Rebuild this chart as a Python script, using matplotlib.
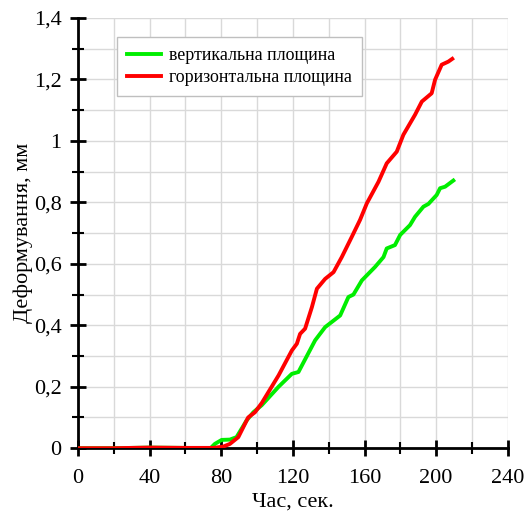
import matplotlib
matplotlib.use("Agg")
import matplotlib.pyplot as plt
from matplotlib.ticker import MultipleLocator, FuncFormatter

# vertical plane
vert_t = [0, 20, 40, 60, 74, 76.4, 80.2, 84.8, 88.5, 94.1, 97.9, 102.6, 112, 119.4, 123.1,
          132.4, 138, 146.4, 151, 153.8, 158.5, 165.9, 170.6, 172.4, 177, 179.9, 185.4,
          188.2, 192.9, 195.7, 200.3, 202.2, 205, 209.6]
vert_d = [0, 0, 0.002, 0.001, 0, 0.014, 0.027, 0.028, 0.036, 0.09, 0.117, 0.14, 0.2, 0.242,
          0.248, 0.351, 0.394, 0.432, 0.492, 0.5, 0.546, 0.59, 0.622, 0.65, 0.661, 0.694,
          0.726, 0.753, 0.786, 0.795, 0.824, 0.846, 0.851, 0.871]

# horizontal plane
hor_t = [0, 20, 40, 60, 75.5, 81, 84.8, 89.5, 95, 98.8, 102.6, 112, 119.4, 122.2, 124,
         126.8, 130.6, 133.4, 138, 142.7, 147.3, 152.9, 157.5, 161.3, 167.8, 172.4, 178,
         181.7, 188.2, 192, 197.5, 199.4, 203.1, 206.8, 209]
hor_d = [0, 0, 0.002, 0.001, 0.001, 0.005, 0.014, 0.036, 0.1, 0.117, 0.147, 0.237, 0.318,
         0.34, 0.372, 0.389, 0.459, 0.519, 0.551, 0.573, 0.622, 0.688, 0.743, 0.797, 0.867,
         0.927, 0.965, 1.02, 1.085, 1.128, 1.155, 1.199, 1.248, 1.258, 1.267]

plt.rcParams["font.family"] = ["Liberation Serif", "DejaVu Serif"]

fig = plt.figure(figsize=(5.24, 5.14), dpi=100)
ax = fig.add_axes([0.149, 0.128, 0.82, 0.837])

ax.plot(vert_t, vert_d, color="#00ee00", lw=2.8, label="вертикальна площина", zorder=3)
ax.plot(hor_t, hor_d, color="#ff0000", lw=2.8, label="горизонтальна площина", zorder=4)

ax.set_xlim(0, 240)
ax.set_ylim(0, 1.4)
ax.xaxis.set_major_locator(MultipleLocator(40))
ax.xaxis.set_minor_locator(MultipleLocator(20))
ax.yaxis.set_major_locator(MultipleLocator(0.2))
ax.yaxis.set_minor_locator(MultipleLocator(0.1))
ax.yaxis.set_major_formatter(FuncFormatter(lambda v, p: f"{v:.1f}".rstrip("0").rstrip(".").replace(".", ",")))

ax.grid(True, which="both", color="#d9d9d9", lw=1)
ax.set_axisbelow(True)
for s in ("top", "right"):
    ax.spines[s].set_visible(False)
for s in ("left", "bottom"):
    ax.spines[s].set_linewidth(2)
ax.tick_params(which="major", direction="inout", length=12, width=2, labelsize=16, pad=6)
ax.tick_params(which="minor", direction="inout", length=9, width=1.5)
ax.tick_params(axis="x", which="major", pad=9)

ax.set_xlabel("Час, сек.", fontsize=16)
ax.set_ylabel("Деформування, мм", fontsize=16)
ax.xaxis.set_label_coords(0.5, -0.103)
ax.yaxis.set_label_coords(-0.104, 0.5)

leg = ax.legend(loc="upper left", bbox_to_anchor=(0.0907, 0.956), borderaxespad=0,
                fontsize=12.9, fancybox=False, framealpha=1, edgecolor="#bfbfbf",
                handlelength=1.9, handletextpad=0.45, borderpad=0.55, labelspacing=0.3)
leg.get_frame().set_linewidth(1)

fig.savefig("out.png", dpi=100)
